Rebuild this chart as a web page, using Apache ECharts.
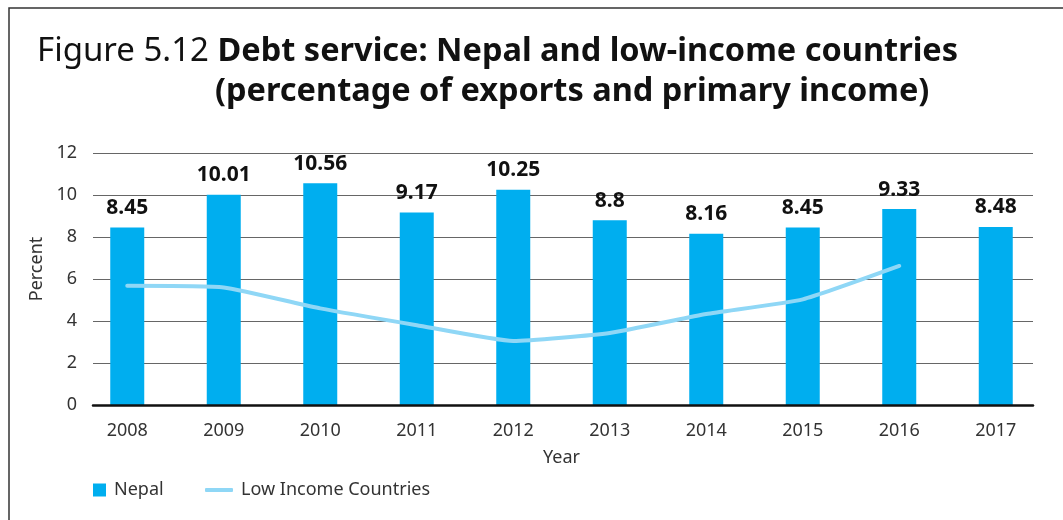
<!DOCTYPE html>
<html>
<head>
<meta charset="utf-8">
<script src="https://cdn.jsdelivr.net/npm/echarts@6/dist/echarts.min.js"></script>
<style>
  html, body { margin: 0; padding: 0; background: #fff; }
  #chart { width: 1063px; height: 520px; }
</style>
</head>
<body>
<div id="chart"></div>
<script>
const years = ['2008', '2009', '2010', '2011', '2012', '2013', '2014', '2015', '2016', '2017'];
const nepal = [8.45, 10.01, 10.56, 9.17, 10.25, 8.8, 8.16, 8.45, 9.33, 8.48];
const lowIncome = [5.68, 5.6, 4.6, 3.8, 3.05, 3.43, 4.33, 5.03, 6.62, null];
const yTicks = { min: 0, max: 12, interval: 2 };

const FONT = '"Noto Sans", sans-serif';
const BAR_COLOR = '#00aeef';
const LINE_COLOR = '#8fd7f6';

let chart = echarts.init(document.getElementById('chart'), null, { renderer: 'canvas' });

chart.setOption({
  animation: false,
  textStyle: { fontFamily: FONT },
  graphic: [{
    type: 'rect',
    shape: { x: 9, y: 8, width: 1100, height: 600 },
    style: { fill: 'none', stroke: '#333', lineWidth: 1.5 },
    silent: true
  }],
  title: [{
    left: 37,
    top: 35,
    padding: 0,
    text: '{l|Figure 5.12 }{b|Debt service: Nepal and low-income countries}',
    textStyle: {
      rich: {
        l: { fontFamily: FONT, fontSize: 33, fontWeight: 'normal', color: '#111' },
        b: { fontFamily: FONT, fontSize: 32.5, fontWeight: 'bold', color: '#111' }
      }
    }
  }, {
    left: 215,
    top: 75,
    padding: 0,
    text: '(percentage of exports and primary income)',
    textStyle: { fontFamily: FONT, fontSize: 32.5, fontWeight: 'bold', color: '#111' }
  }],
  legend: [{
    left: 93,
    top: 481,
    padding: 0,
    itemWidth: 13,
    itemHeight: 13,
    textStyle: { fontSize: 18, color: '#333', padding: [0, 0, 0, 3] },
    data: [{ name: 'Nepal', icon: 'rect' }]
  }, {
    left: 205,
    top: 481,
    padding: 0,
    itemWidth: 28,
    itemHeight: 4,
    textStyle: { fontSize: 18, color: '#333', padding: [0, 0, 0, 3] },
    data: [{ name: 'Low Income Countries', icon: 'roundRect' }]
  }],
  grid: [
    // marks: category bands are a little wider than the gridlines
    { left: 79, right: 19, top: 153, bottom: 115 },
    // gridlines and y labels
    { left: 93, right: 30, top: 153, bottom: 115 }
  ],
  xAxis: [{
    gridIndex: 0,
    type: 'category',
    data: years,
    name: 'Year',
    nameLocation: 'middle',
    nameGap: 44,
    nameTextStyle: { fontSize: 18, color: '#333' },
    axisLine: { show: false },
    axisTick: { show: false },
    axisLabel: { fontSize: 18, color: '#333', margin: 17 }
  }, {
    gridIndex: 1,
    type: 'category',
    data: years,
    z: 5,
    axisLine: { show: true, lineStyle: { color: '#111', width: 2.5 } },
    axisTick: { show: false },
    axisLabel: { show: false }
  }],
  yAxis: [{
    gridIndex: 0,
    type: 'value',
    min: yTicks.min,
    max: yTicks.max,
    interval: yTicks.interval,
    show: false
  }, {
    gridIndex: 1,
    type: 'value',
    min: yTicks.min,
    max: yTicks.max,
    interval: yTicks.interval,
    name: 'Percent',
    nameLocation: 'middle',
    nameGap: 40,
    nameTextStyle: { fontSize: 18, color: '#333', padding: [0, 0, 0, 20] },
    axisLine: { show: false },
    axisTick: { show: false },
    axisLabel: { fontSize: 18, color: '#333', margin: 16 },
    splitLine: { lineStyle: { color: '#666', width: 1.2 } }
  }],
  series: [{
    name: 'Nepal',
    type: 'bar',
    xAxisIndex: 0,
    yAxisIndex: 0,
    data: nepal,
    barWidth: 34,
    itemStyle: { color: BAR_COLOR },
    label: {
      show: true,
      position: 'top',
      distance: 9,
      fontSize: 21,
      fontWeight: 'bold',
      color: '#111'
    }
  }, {
    name: 'Low Income Countries',
    type: 'line',
    xAxisIndex: 0,
    yAxisIndex: 0,
    data: lowIncome,
    showSymbol: false,
    symbol: 'none',
    smooth: 0.15,
    itemStyle: { color: LINE_COLOR },
    lineStyle: { color: LINE_COLOR, width: 4, cap: 'round' }
  }]
});
</script>
</body>
</html>
